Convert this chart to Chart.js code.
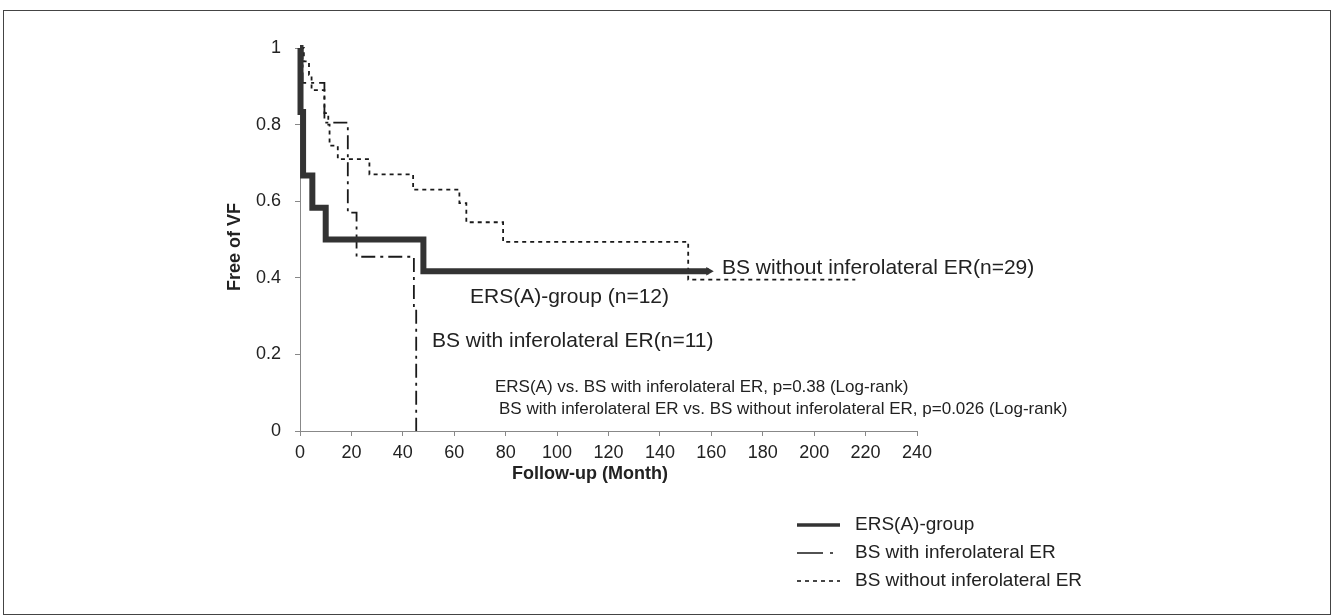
<!DOCTYPE html>
<html>
<head>
<meta charset="utf-8">
<script src="https://cdn.jsdelivr.net/npm/chart.js@4.4.1/dist/chart.umd.min.js"></script>
<style>
  html, body { margin: 0; padding: 0; background: #fff; }
  #wrap { position: relative; width: 1337px; height: 616px; }
  #frame { position: absolute; left: 3px; top: 10px; width: 1328px; height: 605px; border: 1px solid #444; box-sizing: border-box; }
  canvas { position: absolute; left: 0; top: 0; }
</style>
</head>
<body>
<div id="wrap">
  <div id="frame"></div>
  <canvas id="km" width="1337" height="616"></canvas>
</div>
<script>
// Kaplan-Meier steps (months, fraction free of VF)
const ersTime = [0, 0.2, 1.2, 4.8, 10, 48, 159];
const ersFree = [1, 0.833, 0.667, 0.583, 0.5, 0.417, 0.417];

const withTime = [0, 1, 9.5, 18.6, 22, 44.3, 45.2];
const withFree = [1, 0.909, 0.805, 0.57, 0.455, 0.32, 0];

const withoutTime = [0, 1.5, 3.5, 4.5, 9.5, 11, 11.5, 14.7, 27, 44, 62, 64.7, 79, 151, 216];
const withoutFree = [1, 0.965, 0.93, 0.89, 0.83, 0.8, 0.745, 0.71, 0.67, 0.63, 0.595, 0.545, 0.494, 0.395, 0.395];

const seriesNames = ['ERS(A)-group', 'BS with inferolateral ER', 'BS without inferolateral ER'];
const xTickLabels = ['0', '20', '40', '60', '80', '100', '120', '140', '160', '180', '200', '220', '240'];
const yTickLabels = ['0', '0.2', '0.4', '0.6', '0.8', '1'];

const notes = [
  'BS without inferolateral ER(n=29)',
  'ERS(A)-group (n=12)',
  'BS with inferolateral ER(n=11)',
  'ERS(A) vs. BS with inferolateral ER, p=0.38 (Log-rank)',
  'BS with inferolateral ER vs. BS without inferolateral ER, p=0.026 (Log-rank)'
];

const toPoints = (ts, vs) => ts.map((t, i) => ({ x: t, y: vs[i] }));

const FONT = '"Liberation Sans", Arial, sans-serif';

// where the free text sits on the page
const noteLayout = [
  { x: 722, y: 268, size: 21 },
  { x: 470, y: 297, size: 21 },
  { x: 432, y: 341, size: 21 },
  { x: 495, y: 387, size: 17 },
  { x: 499, y: 409, size: 17 }
];

const textPlugin = {
  id: 'textPlugin',
  afterDraw(chart) {
    const ctx = chart.ctx;
    ctx.save();
    ctx.fillStyle = '#222';
    ctx.textBaseline = 'middle';
    notes.forEach((t, i) => {
      const l = noteLayout[i];
      ctx.font = l.size + 'px ' + FONT;
      ctx.fillText(t, l.x, l.y);
    });

    // axis titles
    ctx.font = 'bold 18px ' + FONT;
    ctx.textAlign = 'center';
    ctx.fillText('Follow-up (Month)', 590, 474);
    ctx.save();
    ctx.translate(235, 247);
    ctx.rotate(-Math.PI / 2);
    ctx.fillText('Free of VF', 0, 0);
    ctx.restore();

    // legend, bottom right
    ctx.textAlign = 'left';
    ctx.font = '19px ' + FONT;
    chart.data.datasets.forEach((ds, i) => {
      const y = 525 + i * 28;
      ctx.save();
      ctx.strokeStyle = ds.borderColor;
      ctx.lineWidth = i === 0 ? 3.5 : 1.6;
      ctx.setLineDash(i === 1 ? [26, 7, 3, 7] : (ds.borderDash || []));
      ctx.beginPath();
      ctx.moveTo(797, y);
      ctx.lineTo(840, y);
      ctx.stroke();
      ctx.restore();
      ctx.fillText(seriesNames[i], 855, y);
    });
    ctx.restore();
  }
};

new Chart(document.getElementById('km'), {
  type: 'line',
  data: {
    datasets: [
      {
        label: seriesNames[0],
        data: toPoints(ersTime, ersFree),
        borderColor: '#333',
        borderWidth: 6,
        stepped: true,
        pointRadius: ersTime.map((t, i) => i === ersTime.length - 1 ? 5 : 0),
        pointStyle: 'triangle',
        rotation: 90,
        pointBackgroundColor: '#333',
        pointBorderWidth: 0,
        clip: false
      },
      {
        label: seriesNames[1],
        data: toPoints(withTime, withFree),
        borderColor: '#1a1a1a',
        borderWidth: 1.8,
        borderDash: [14, 5, 3, 5],
        stepped: true,
        pointRadius: 0,
        clip: false
      },
      {
        label: seriesNames[2],
        data: toPoints(withoutTime, withoutFree),
        borderColor: '#1a1a1a',
        borderWidth: 1.8,
        borderDash: [4, 4],
        stepped: true,
        pointRadius: 0,
        clip: false
      }
    ]
  },
  options: {
    responsive: false,
    animation: false,
    layout: { padding: { left: 240, right: 420, top: 48, bottom: 125 } },
    plugins: {
      legend: { display: false },
      tooltip: { enabled: false }
    },
    scales: {
      x: {
        type: 'linear',
        min: 0,
        max: 240,
        afterFit: (s) => { s.height = 60; },
        border: { color: '#888', width: 1 },
        grid: { drawOnChartArea: false, drawTicks: true, tickLength: 5, color: '#888' },
        ticks: {
          stepSize: 20,
          padding: 6,
          color: '#222',
          font: { family: FONT, size: 18 },
          callback: (v, i) => xTickLabels[i]
        }
      },
      y: {
        min: 0,
        max: 1,
        afterFit: (s) => { s.width = 60; },
        border: { color: '#888', width: 1 },
        grid: { drawOnChartArea: false, drawTicks: true, tickLength: 5, color: '#888' },
        ticks: {
          stepSize: 0.2,
          padding: 14,
          color: '#222',
          font: { family: FONT, size: 18 },
          callback: (v, i) => yTickLabels[i]
        }
      }
    }
  },
  plugins: [textPlugin]
});
</script>
</body>
</html>
